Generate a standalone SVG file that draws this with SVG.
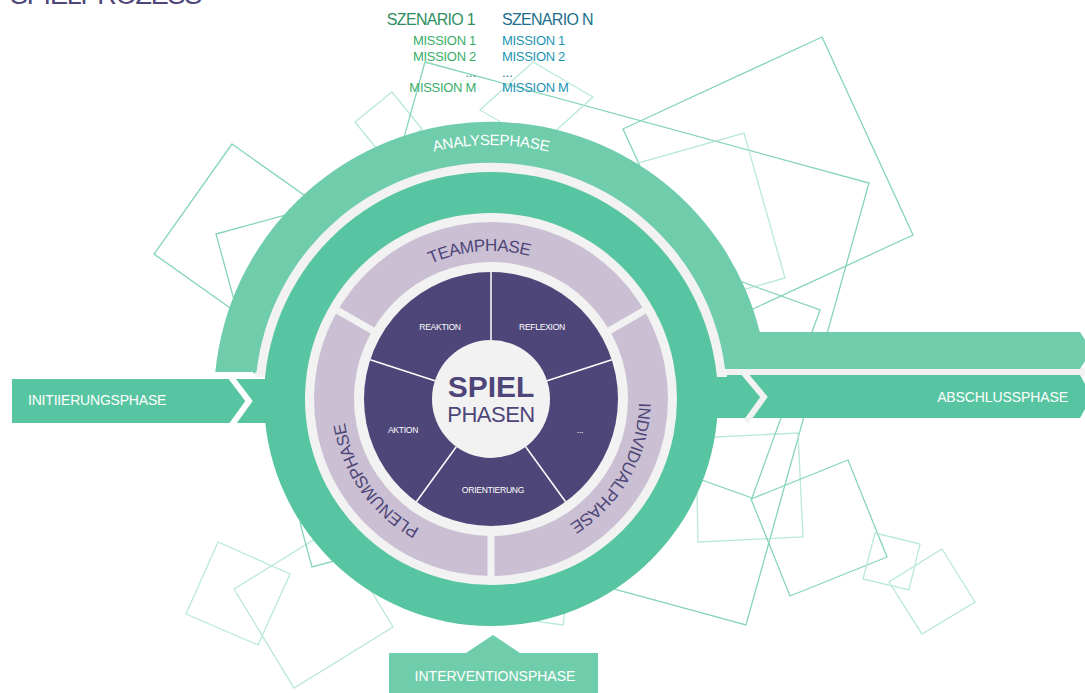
<svg xmlns="http://www.w3.org/2000/svg" width="1085" height="693" viewBox="0 0 1085 693">
  <style>
    .sq { fill: none; stroke: #86d5b9; stroke-width: 1.3; }
    .sq-faint { fill: none; stroke: #b9e9d8; stroke-width: 1.3; }
    .sans { font-family: "Liberation Sans", Arial, sans-serif; }
    .band-label { font-family: "Liberation Sans", Arial, sans-serif; font-size: 14px; fill: #ffffff; }
    .ring-label { font-family: "Liberation Sans", Arial, sans-serif; font-size: 17px; fill: #4e4679; letter-spacing: -0.5px; }
    .step-label { font-family: "Liberation Sans", Arial, sans-serif; font-size: 8.6px; fill: #ffffff; text-anchor: middle; letter-spacing: -0.3px; }
    .green-1 { fill: #2f8f5f; }
    .green-2 { fill: #3aae69; }
    .teal-1 { fill: #1d6f8c; }
    .teal-2 { fill: #2494b5; }
  </style>
  <defs>
    <path id="arc-analyse" d="M237,399 A254,254 0 0 1 745,399"/>
    <path id="arc-from-bottom" d="M491,547 A148,148 0 1 1 491,251 A148,148 0 1 1 491,547"/>
    <path id="arc-from-top" d="M491,251 A148,148 0 1 1 491,547 A148,148 0 1 1 491,251"/>
  </defs>

  <rect width="1085" height="693" fill="#ffffff"/>

  <!-- background outline squares -->
  <g id="background-squares">
    <polygon class="sq" points="232,144 342,222 264,332 154,254"/>
    <polygon class="sq" points="216,234 355,196 393,335 254,373"/>
    <polygon class="sq-faint" points="355,122 392,92 422,129 385,159"/>
    <polygon class="sq" points="822,37 913,235 714,327 623,129"/>
    <polygon class="sq" points="425,62 869,183 746,625 302,504"/>
    <polygon class="sq-faint" points="744,133 785,278 640,319 599,174"/>
    <polygon class="sq-faint" points="696,438 798,433 803,537 698,542"/>
    <polygon class="sq" points="820,310 752,498 563,430 631,242"/>
    <polygon class="sq" points="751,499 848,460 887,557 790,596"/>
    <polygon class="sq-faint" points="875,533 920,544 909,590 863,579"/>
    <polygon class="sq-faint" points="942,549 975,602 922,634 889,582"/>
    <polygon class="sq-faint" points="218,542 290,574 258,645 186,614"/>
    <polygon class="sq-faint" points="234,589 333,528 393,627 294,688"/>
    <polygon class="sq" points="312,567 300,523 345,511 357,555"/>
    <polygon class="sq-faint" points="533,62 593,97 540,145 480,110"/>
    <polygon class="sq-faint" points="563,625 484,614 495,535 574,546"/>
  </g>

  <!-- title, cut at the top edge -->
  <text class="sans" x="10" y="4" font-size="27" letter-spacing="-1.2" fill="#4e4679">SPIELPROZESS</text>

  <!-- scenario / mission list -->
  <g id="scenarios" class="sans">
    <text class="green-1" x="475" y="25" font-size="16" letter-spacing="-0.7" text-anchor="end">SZENARIO 1</text>
    <text class="green-2" x="476" y="45" font-size="13" letter-spacing="-0.3" text-anchor="end">MISSION 1</text>
    <text class="green-2" x="476" y="61" font-size="13" letter-spacing="-0.3" text-anchor="end">MISSION 2</text>
    <text class="green-1" x="476" y="77" font-size="13" text-anchor="end">...</text>
    <text class="green-2" x="476" y="92" font-size="13" letter-spacing="-0.3" text-anchor="end">MISSION M</text>
    <text class="teal-1" x="502" y="25" font-size="16" letter-spacing="-0.7">SZENARIO N</text>
    <text class="teal-2" x="502" y="45" font-size="13" letter-spacing="-0.3">MISSION 1</text>
    <text class="teal-2" x="502" y="61" font-size="13" letter-spacing="-0.3">MISSION 2</text>
    <text class="teal-1" x="502" y="77" font-size="13">...</text>
    <text class="teal-2" x="502" y="92" font-size="13" letter-spacing="-0.3">MISSION M</text>
  </g>

  <!-- bands: initiation in, closing out, intervention below -->
  <g id="initiierungsphase">
    <rect x="12" y="379" width="290" height="44" fill="#57c5a1"/>
    <polyline points="230,376 249,401 231,426" fill="none" stroke="#ffffff" stroke-width="6"/>
    <text class="band-label" x="28" y="405" letter-spacing="-0.2">INITIIERUNGSPHASE</text>
  </g>

  <g id="abschlussphase">
    <polygon points="720,368 1086,368 1086,376 720,376" fill="#f2f2f2"/>
    <polygon points="700,375 1080,375 1092,396.5 1080,418 700,418" fill="#57c5a1"/>
    <polyline points="743,372 764,397 746,422" fill="none" stroke="#f2f2f2" stroke-width="6"/>
    <text class="band-label" x="1068" y="402" text-anchor="end" letter-spacing="-0.1">ABSCHLUSSPHASE</text>
  </g>

  <g id="interventionsphase">
    <polygon points="389,653 466,653 493,635 520,653 598,653 598,693 389,693" fill="#6fcdab"/>
    <text class="band-label" x="495" y="681" text-anchor="middle">INTERVENTIONSPHASE</text>
  </g>

  <!-- analysis arc running into the top band -->
  <g id="analysephase">
    <path d="M255,377 A237,237 0 0 1 727,377 Z" fill="#f2f2f2"/>
    <path d="M215.3,372 A277,277 0 0 1 759.8,332 L1080,332 L1092,350.5 L1080,369 L725.1,369 A236,236 0 0 0 256.5,372 Z" fill="#6fcdab"/>
    <text class="sans" font-size="15" fill="#ffffff" letter-spacing="-0.3">
      <textPath href="#arc-analyse" startOffset="50%" text-anchor="middle">ANALYSEPHASE</textPath>
    </text>
  </g>

  <!-- main wheel -->
  <g id="wheel">
    <circle cx="491" cy="399" r="227" fill="#57c5a1"/>
    <circle cx="491" cy="399" r="186" fill="#f2f2f2"/>
    <circle cx="491" cy="399" r="177" fill="#cbc0d3"/>
    <g stroke="#f2f2f2" stroke-width="7">
      <line x1="376.7" y1="333" x2="333.4" y2="308"/>
      <line x1="605.3" y1="333" x2="648.6" y2="308"/>
      <line x1="491" y1="531" x2="491" y2="581"/>
    </g>
    <circle cx="491" cy="399" r="137" fill="#f2f2f2"/>
    <circle cx="491" cy="399" r="127" fill="#4e4679"/>
    <g stroke="#ffffff" stroke-width="1.5">
      <line x1="491" y1="340" x2="491" y2="272"/>
      <line x1="547.1" y1="380.8" x2="611.8" y2="359.8"/>
      <line x1="525.7" y1="446.7" x2="565.6" y2="501.7"/>
      <line x1="456.3" y1="446.7" x2="416.4" y2="501.7"/>
      <line x1="434.9" y1="380.8" x2="370.2" y2="359.8"/>
    </g>
  </g>

  <g id="teamphase">
    <text class="ring-label"><textPath href="#arc-from-bottom" startOffset="453" text-anchor="middle">TEAMPHASE</textPath></text>
  </g>
  <g id="individualphase">
    <text class="ring-label"><textPath href="#arc-from-top" startOffset="309" text-anchor="middle">INDIVIDUALPHASE</textPath></text>
  </g>
  <g id="plenumsphase">
    <text class="ring-label"><textPath href="#arc-from-top" startOffset="606" text-anchor="middle">PLENUMSPHASE</textPath></text>
  </g>

  <g id="steps">
    <text class="step-label" x="440" y="330">REAKTION</text>
    <text class="step-label" x="542" y="330">REFLEXION</text>
    <text class="step-label" x="580" y="433">...</text>
    <text class="step-label" x="493" y="493">ORIENTIERUNG</text>
    <text class="step-label" x="403" y="433">AKTION</text>
  </g>

  <g id="spielphasen">
    <circle cx="491" cy="399" r="59" fill="#f2f2f2"/>
    <text class="sans" x="491" y="397" font-size="30" font-weight="bold" fill="#4e4679" text-anchor="middle">SPIEL</text>
    <text class="sans" x="491" y="422" font-size="22" letter-spacing="-0.5" fill="#4e4679" text-anchor="middle">PHASEN</text>
  </g>
</svg>
